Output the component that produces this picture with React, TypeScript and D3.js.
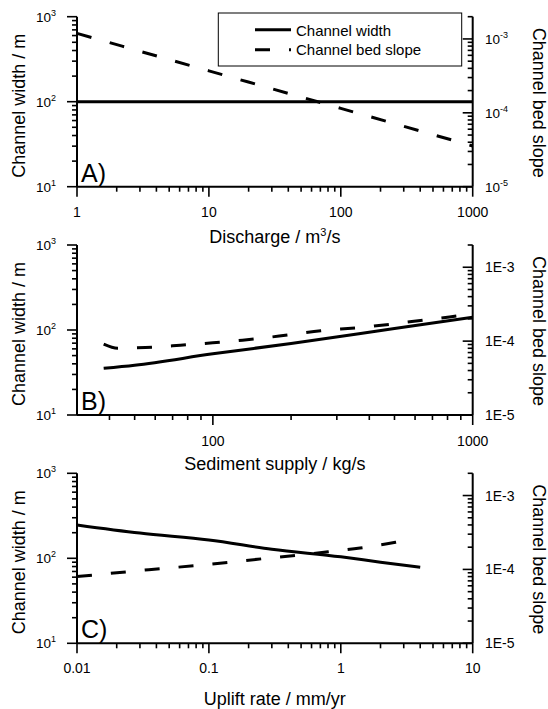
import * as d3 from 'd3';
import React from 'react';

// panel A: discharge
const dischargeQ = [1, 10, 100, 1000];
const widthA = [100, 100, 100, 100];
const slopeA = [1.19e-3, 3.7e-4, 1.15e-4, 3.56e-5];

// panel B: sediment supply
const supplyW = [38, 50, 100, 200, 500, 1000];
const widthB = [35.4, 38.5, 52.4, 69.5, 104, 141];
const supplyS = [38, 43, 55, 75, 100, 130, 180, 260, 360, 480, 650, 870, 1000];
const slopeB = [9.1e-5, 8.0e-5, 8.2e-5, 8.8e-5, 9.5e-5, 1.03e-4, 1.17e-4, 1.38e-4, 1.52e-4, 1.69e-4, 1.93e-4, 2.19e-4, 2.36e-4];

// panel C: uplift rate
const upliftW = [0.01, 0.03, 0.1, 0.3, 1, 2, 4];
const widthC = [247, 198, 164, 128, 104, 90, 78.5];
const upliftS = [0.01, 0.035, 0.1, 0.25, 0.43, 0.8, 1.4, 2.6, 3];
const slopeC = [8.0e-5, 9.9e-5, 1.17e-4, 1.39e-4, 1.53e-4, 1.73e-4, 1.95e-4, 2.33e-4, 2.45e-4];

const xTicksA = [1, 10, 100, 1000];
const xTicksB = [100, 1000];
const xTicksC = [0.01, 0.1, 1, 10];
const xLabelsC = ['0.01', '0.1', '1', '10'];
const leftExp = [1, 2, 3];
const rightExp = [-5, -4, -3];

const FONT = '"Liberation Sans", Arial, Helvetica, sans-serif';
const X0 = 77, X1 = 472.7, PH = 170;

function minors(domain) {
  const out = [];
  const lo = Math.floor(Math.log10(domain[0])), hi = Math.ceil(Math.log10(domain[1]));
  for (let e = lo; e <= hi; e++) {
    for (let k = 2; k <= 9; k++) {
      const v = k * Math.pow(10, e);
      if (v > domain[0] * 1.0001 && v <= domain[1] * 1.0001) out.push(v);
    }
  }
  return out;
}

const Panel = (props) => {
  const { top, xDomain, xTicks, xLabels, letter, wx, wy, sx, sy, rightStyle, labelBase, title, titleBase } = props;
  const x = d3.scaleLog().domain(xDomain).range([X0, X1]);
  const yl = d3.scaleLog().domain([10, 1000]).range([top + PH, top]);
  const yr = d3.scaleLog().domain([1e-5, 2e-3]).range([top + PH, top]);
  const line = d3.line().x(d => x(d[0])).y(d => d[1]).curve(d3.curveMonotoneX);
  const wPath = line(wx.map((v, i) => [v, yl(wy[i])]));
  const sPath = line(sx.map((v, i) => [v, yr(sy[i])]));
  const bottom = top + PH;
  const cy = top + PH / 2;

  return (
    <g>
      {/* data */}
      <path d={wPath} fill="none" stroke="#000" strokeWidth={3} />
      <path d={sPath} fill="none" stroke="#000" strokeWidth={3} strokeDasharray="15,19" />

      {/* axes */}
      <g stroke="#000" strokeWidth={2} fill="none">
        <line x1={X0} x2={X1} y1={bottom} y2={bottom} />
        <line x1={X0} x2={X0} y1={top} y2={bottom} />
        <line x1={X1} x2={X1} y1={top} y2={bottom} />
      </g>
      <g stroke="#000" strokeWidth={1.6}>
        {xTicks.map(v => <line key={'xM' + v} x1={x(v)} x2={x(v)} y1={bottom} y2={bottom + 10} />)}
        {minors(xDomain).filter(v => !xTicks.includes(v)).map(v =>
          <line key={'xm' + v} x1={x(v)} x2={x(v)} y1={bottom} y2={bottom + 5} />)}
        {leftExp.map(e => <line key={'lM' + e} x1={X0 - 10} x2={X0} y1={yl(Math.pow(10, e))} y2={yl(Math.pow(10, e))} />)}
        {minors([10, 1000]).filter(v => ![100, 1000].includes(v)).map(v =>
          <line key={'lm' + v} x1={X0 - 5} x2={X0} y1={yl(v)} y2={yl(v)} />)}
        {rightExp.map(e => <line key={'rM' + e} x1={X1 - 10} x2={X1} y1={yr(Math.pow(10, e))} y2={yr(Math.pow(10, e))} />)}
        {minors([1e-5, 2e-3]).filter(v => Math.abs(v - 1e-4) > 1e-9 && Math.abs(v - 1e-3) > 1e-9).map(v =>
          <line key={'rm' + v} x1={X1 - 5} x2={X1} y1={yr(v)} y2={yr(v)} />)}
      </g>

      {/* tick labels */}
      <g fontFamily={FONT} fill="#000">
        {xTicks.map((v, i) => (
          <text key={'xl' + v} x={x(v)} y={bottom + labelBase} textAnchor="middle" fontSize={14}>
            {xLabels ? xLabels[i] : String(v)}
          </text>
        ))}
        {leftExp.map(e => (
          <text key={'ll' + e} x={56} y={yl(Math.pow(10, e)) + 5} textAnchor="end" fontSize={13.5}>
            10<tspan dy={-6} fontSize={9}>{e}</tspan>
          </text>
        ))}
        {rightExp.map(e => rightStyle === 'pow' ? (
          <text key={'rl' + e} x={485} y={yr(Math.pow(10, e)) + 5} fontSize={13.5}>
            10<tspan dy={-6} fontSize={9}>{e}</tspan>
          </text>
        ) : (
          <text key={'rl' + e} x={485} y={yr(Math.pow(10, e)) + 5} fontSize={14}>
            {'1E' + e}
          </text>
        ))}
      </g>

      {/* titles */}
      <g fontFamily={FONT} fill="#000" fontSize={18}>
        <text x={(X0 + X1) / 2} y={bottom + titleBase} textAnchor="middle">{title}</text>
        <text transform={`translate(25,${cy + 4}) rotate(-90)`} textAnchor="middle">Channel width / m</text>
        <text transform={`translate(533,${cy + 1}) rotate(90)`} textAnchor="middle">Channel bed slope</text>
        <text x={81} y={bottom - 5} fontSize={25}>{letter}</text>
      </g>
    </g>
  );
};

const App = () => {
  return (
    <svg width={548} height={709} style={{ position: 'absolute', left: 0, top: 0, background: '#fff' }}>
      <Panel top={16.7} xDomain={[1, 1000]} xTicks={xTicksA} letter="A)"
        wx={dischargeQ} wy={widthA} sx={dischargeQ} sy={slopeA} rightStyle="pow"
        labelBase={30} titleBase={56}
        title={<>Discharge / m<tspan dy={-7} fontSize={11}>3</tspan><tspan dy={7}>/s</tspan></>} />
      <Panel top={245} xDomain={[30, 1000]} xTicks={xTicksB} letter="B)"
        wx={supplyW} wy={widthB} sx={supplyS} sy={slopeB} rightStyle="e"
        labelBase={30.5} titleBase={55} title="Sediment supply / kg/s" />
      <Panel top={473.3} xDomain={[0.01, 10]} xTicks={xTicksC} xLabels={xLabelsC} letter="C)"
        wx={upliftW} wy={widthC} sx={upliftS} sy={slopeC} rightStyle="e"
        labelBase={30} titleBase={62} title="Uplift rate / mm/yr" />

      {/* legend */}
      <g fontFamily={FONT} fontSize={15}>
        <rect x={218.3} y={13} width={243.4} height={53} fill="#fff" stroke="#000" strokeWidth={1} />
        <line x1={255} x2={291} y1={29.7} y2={29.7} stroke="#000" strokeWidth={3} />
        <text x={296} y={35.5}>Channel width</text>
        <line x1={255} x2={291} y1={49.7} y2={49.7} stroke="#000" strokeWidth={3} strokeDasharray="15,19" />
        <text x={296} y={55}>Channel bed slope</text>
      </g>
    </svg>
  );
};

export default App;
